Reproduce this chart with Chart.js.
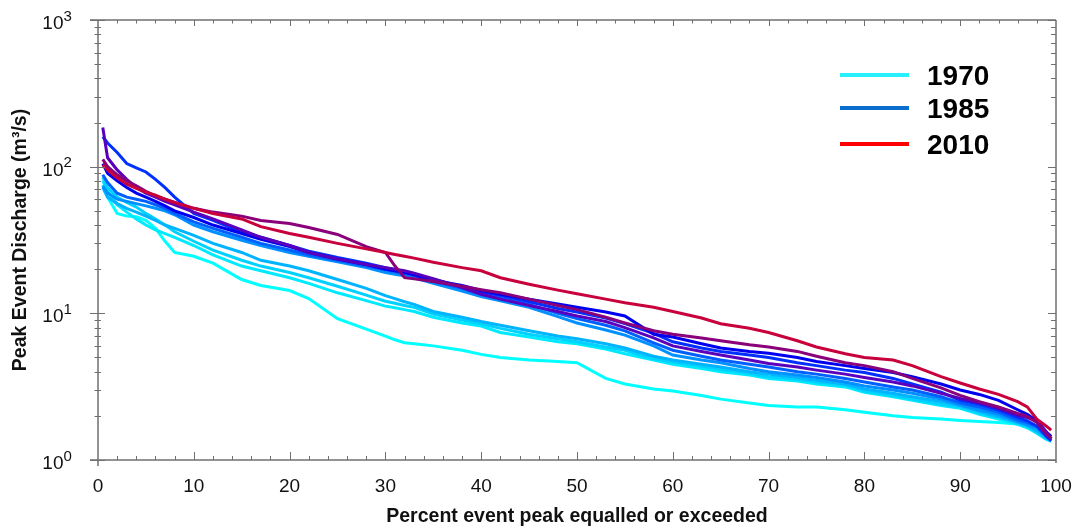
<!DOCTYPE html>
<html>
<head>
<meta charset="utf-8">
<script src="https://cdn.jsdelivr.net/npm/chart.js@4.4.1/dist/chart.umd.min.js"></script>
<style>
  html, body { margin: 0; padding: 0; background: #fff; }
  canvas { display: block; }
</style>
</head>
<body>
<canvas id="c" width="1078" height="531"></canvas>
<script>
// Exceedance percentage shared by every duration curve
const pct = [0.5, 1, 2, 3, 4, 5, 6, 7, 8, 10, 12, 15, 17, 20, 22, 25, 28, 30, 31, 32, 33, 35, 38, 40, 42, 45, 48, 50, 53, 55, 58, 60, 63, 65, 68, 70, 73, 75, 78, 80, 83, 85, 88, 90, 92, 94, 96, 97, 98, 99, 99.5];

// Peak event discharge (m³/s) for each land-use year
const q1970 = [75, 62, 48, 46, 45.5, 43, 38, 31, 26, 24.5, 22, 17, 15.5, 14.3, 12.6, 9.2, 7.8, 7.0, 6.6, 6.3, 6.2, 6.0, 5.6, 5.25, 5.0, 4.8, 4.7, 4.6, 3.6, 3.3, 3.05, 2.95, 2.75, 2.6, 2.45, 2.35, 2.3, 2.3, 2.2, 2.12, 2.0, 1.95, 1.9, 1.86, 1.83, 1.8, 1.76, 1.72, 1.6, 1.42, 1.35];
const q1974 = [80, 68, 55, 49, 44, 40, 37, 35, 33, 29, 25, 21, 19.5, 17.5, 16, 13.8, 12.2, 11.2, 10.9, 10.6, 10.3, 9.4, 8.6, 8.2, 7.4, 6.9, 6.4, 6.2, 5.7, 5.3, 4.8, 4.5, 4.2, 4.0, 3.8, 3.6, 3.45, 3.3, 3.15, 2.9, 2.7, 2.55, 2.35, 2.25, 2.05, 1.9, 1.75, 1.66, 1.52, 1.38, 1.34];
const q1978 = [85, 72, 62, 57, 53, 48, 44, 40, 36, 31, 27, 23, 21, 19, 17.5, 15.3, 13.3, 12.1, 11.7, 11.3, 11.0, 9.9, 9.0, 8.5, 7.9, 7.2, 6.7, 6.4, 5.9, 5.6, 4.9, 4.65, 4.35, 4.15, 3.9, 3.7, 3.55, 3.4, 3.25, 2.95, 2.75, 2.6, 2.4, 2.3, 2.1, 1.95, 1.78, 1.7, 1.55, 1.4, 1.36];
const q1982 = [72, 62, 56, 52, 49, 46, 43, 40, 38, 34, 30, 26, 23, 21, 19.5, 17, 14.8, 13.2, 12.6, 12.0, 11.5, 10.3, 9.4, 8.8, 8.3, 7.6, 7.0, 6.7, 6.2, 5.8, 5.1, 4.8, 4.5, 4.3, 4.0, 3.85, 3.65, 3.5, 3.3, 3.05, 2.85, 2.7, 2.5, 2.35, 2.15, 1.98, 1.82, 1.72, 1.58, 1.42, 1.38];
const q1986 = [74, 66, 60, 58, 56, 54, 52, 50, 47, 40, 36, 31.5, 29, 26, 24.5, 22.5, 20.5, 19, 18.5, 18, 17.5, 16, 14.2, 13.0, 12.2, 11, 9.5, 8.6, 7.7, 7.1, 6.0, 5.2, 4.8, 4.6, 4.2, 4.0, 3.8, 3.65, 3.4, 3.2, 3.0, 2.85, 2.6, 2.38, 2.2, 2.05, 1.82, 1.74, 1.65, 1.45, 1.38];
const q1990 = [88, 78, 66, 62, 60, 58, 55, 52, 48, 42, 38, 33, 30, 27, 25, 23, 21, 19.8, 19.2, 18.6, 18, 16.5, 14.8, 13.5, 12.7, 11.5, 10.0, 9.2, 8.3, 7.6, 6.3, 5.6, 5.1, 4.8, 4.5, 4.3, 4.0, 3.85, 3.6, 3.4, 3.15, 3.0, 2.7, 2.45, 2.3, 2.12, 1.88, 1.8, 1.7, 1.5, 1.4];
const q1994 = [160, 145, 125, 105, 98, 92, 82, 72, 62, 48, 43, 36, 33, 29, 26.5, 24, 22, 20.5, 19.8, 19.2, 18.5, 17, 15.2, 14.0, 13.2, 12.0, 10.8, 10.2, 9.3, 8.5, 7.3, 6.4, 5.8, 5.5, 5.2, 5.0, 4.6, 4.4, 4.1, 3.95, 3.6, 3.3, 2.9, 2.55, 2.4, 2.2, 1.95, 1.85, 1.7, 1.45, 1.35];
const q1998 = [105, 90, 80, 72, 66, 62, 58, 54, 50, 45, 40, 35, 32, 28.5, 26, 23.5, 21.5, 20, 19.5, 19, 18.3, 16.8, 15.5, 14.3, 13.5, 12.5, 11.6, 11.0, 10.2, 9.6, 7.2, 6.9, 6.2, 5.8, 5.5, 5.35, 5.0, 4.7, 4.4, 4.2, 3.95, 3.7, 3.3, 3.0, 2.8, 2.55, 2.2, 2.05, 1.85, 1.55, 1.45];
const q2002 = [185, 115, 95, 82, 72, 66, 62, 58, 55, 49, 44, 37, 33, 29, 26, 23.5, 21.5, 20.5, 20, 19.5, 18.8, 17.2, 15, 13.5, 12.5, 11.3, 10.3, 9.6, 8.8, 8.0, 6.8, 6.0, 5.5, 5.2, 4.8, 4.55, 4.3, 4.1, 3.85, 3.65, 3.4, 3.2, 2.85, 2.63, 2.45, 2.25, 2.02, 1.95, 1.85, 1.55, 1.4];
const q2006 = [112, 100, 88, 80, 74, 68, 63, 60, 57, 52, 49, 46, 43, 41, 38.5, 34.5, 28.5, 26, 21, 17.5, 17.2, 16.5, 15.3, 14.5, 13.8, 12.5, 11.3, 10.6, 9.4, 8.6, 7.6, 7.2, 6.8, 6.5, 6.1, 5.9, 5.5, 5.1, 4.6, 4.4, 4.0, 3.6, 3.1, 2.76, 2.5, 2.3, 2.08, 1.98, 1.8, 1.5, 1.4];
const q2010 = [103, 95, 84, 76, 71, 67, 64, 60, 57, 52, 48, 44, 39, 35, 33, 30, 27.5, 26, 25.2, 24.5, 23.8, 22.3, 20.5, 19.5, 17.5, 15.8, 14.4, 13.6, 12.5, 11.8, 11.0, 10.3, 9.3, 8.5, 7.9, 7.4, 6.5, 5.9, 5.3, 5.0, 4.8, 4.4, 3.7, 3.35, 3.05, 2.8, 2.5, 2.3, 1.9, 1.7, 1.6];

// Axis ticks and labels
const xTicks = [0, 10, 20, 30, 40, 50, 60, 70, 80, 90, 100];
const yDecadeExps = [0, 1, 2, 3];
const xTitle = 'Percent event peak equalled or exceeded';
const yTitle = 'Peak Event Discharge (m³/s)';

// Legend entries
const legendYears = ['1970', '1985', '2010'];
const legendColors = ['#28f0ff', '#0a6ecd', '#ff0000'];

const series = [
  { label: '1970', q: q1970, color: '#00ffff' },
  { label: '1974', q: q1974, color: '#00eaff' },
  { label: '1978', q: q1978, color: '#00d2ff' },
  { label: '1982', q: q1982, color: '#00b4ff' },
  { label: '1986', q: q1986, color: '#0090ff' },
  { label: '1990', q: q1990, color: '#0060ff' },
  { label: '1994', q: q1994, color: '#0030ff' },
  { label: '1998', q: q1998, color: '#0000f0' },
  { label: '2002', q: q2002, color: '#5a00bc' },
  { label: '2006', q: q2006, color: '#8a007a' },
  { label: '2010', q: q2010, color: '#c8003c' }
];

const FONT = '"Liberation Sans", Arial, Helvetica, sans-serif';
const AXIS = '#707070';

// Box frame, tick marks, tick labels, titles and legend
const decorations = {
  id: 'decorations',
  afterDraw(chart) {
    const { ctx, chartArea: a, scales: { x, y } } = chart;
    ctx.save();

    ctx.strokeStyle = AXIS;
    ctx.lineWidth = 1.5;
    ctx.beginPath();
    ctx.moveTo(a.left - 8, a.top); ctx.lineTo(a.right, a.top);
    ctx.moveTo(a.left - 8, a.bottom); ctx.lineTo(a.right, a.bottom);
    ctx.moveTo(a.left, a.top); ctx.lineTo(a.left, a.bottom + 6);
    ctx.moveTo(a.right, a.top); ctx.lineTo(a.right, a.bottom + 3);
    ctx.stroke();

    ctx.lineWidth = 1;
    ctx.beginPath();
    for (let v = 2; v < 100; v += 2) {
      const px = Math.round(x.getPixelForValue(v)) + 0.5;
      const major = v % 10 === 0;
      ctx.moveTo(px, a.bottom); ctx.lineTo(px, a.bottom - (major ? 8 : 4));
      ctx.moveTo(px, a.top); ctx.lineTo(px, a.top + (major ? 6 : 3.5));
    }
    yDecadeExps.forEach(e => {
      for (let m = 1; m <= 9; m++) {
        if (e === 3 && m > 1) break;
        const py = Math.round(y.getPixelForValue(m * Math.pow(10, e))) + 0.5;
        if (m === 1) {
          ctx.moveTo(a.left - 8, py); ctx.lineTo(a.left + 7, py);
          ctx.moveTo(a.right - 8, py); ctx.lineTo(a.right, py);
        } else {
          ctx.moveTo(a.left - 3.5, py); ctx.lineTo(a.left + 3, py);
          ctx.moveTo(a.right - 5, py); ctx.lineTo(a.right, py);
        }
      }
    });
    ctx.stroke();

    ctx.fillStyle = '#111';
    ctx.font = '19px ' + FONT;
    ctx.textAlign = 'center';
    ctx.textBaseline = 'alphabetic';
    xTicks.forEach(v => {
      ctx.fillText(String(v), x.getPixelForValue(v), a.bottom + 32);
    });

    yDecadeExps.forEach(e => {
      const py = y.getPixelForValue(Math.pow(10, e));
      ctx.font = '19px ' + FONT;
      ctx.textAlign = 'right';
      ctx.fillText('10', 63.5, py + 9);
      ctx.font = '15px ' + FONT;
      ctx.textAlign = 'left';
      ctx.fillText(String(e), 63.5, py + 0.5);
    });

    ctx.font = 'bold 19.5px ' + FONT;
    ctx.textAlign = 'center';
    ctx.fillText(xTitle, (a.left + a.right) / 2, 522);

    ctx.save();
    ctx.translate(25.5, (a.top + a.bottom) / 2);
    ctx.rotate(-Math.PI / 2);
    ctx.fillText(yTitle, 0, 0);
    ctx.restore();

    const rows = [75, 108, 144];
    legendYears.forEach((t, i) => {
      ctx.strokeStyle = legendColors[i];
      ctx.lineWidth = 4;
      ctx.beginPath();
      ctx.moveTo(840, rows[i]); ctx.lineTo(909, rows[i]);
      ctx.stroke();
      ctx.fillStyle = '#000';
      ctx.font = 'bold 28px ' + FONT;
      ctx.textAlign = 'left';
      ctx.fillText(t, 927, rows[i] + 10);
    });

    ctx.restore();
  }
};

new Chart(document.getElementById('c'), {
  type: 'line',
  data: {
    datasets: series.map((s, i) => ({
      label: s.label,
      data: pct.map((p, k) => ({ x: p, y: s.q[k] })),
      borderColor: s.color,
      borderWidth: 3,
      pointRadius: 0,
      tension: 0,
      fill: false,
      order: series.length - i
    }))
  },
  options: {
    responsive: false,
    devicePixelRatio: 1,
    animation: false,
    layout: { padding: { left: 98, right: 22, top: 20, bottom: 71 } },
    plugins: { legend: { display: false }, tooltip: { enabled: false }, title: { display: false } },
    scales: {
      x: { type: 'linear', min: 0, max: 100, display: false },
      y: { type: 'logarithmic', min: 1, max: 1000, display: false }
    }
  },
  plugins: [decorations]
});
</script>
</body>
</html>
